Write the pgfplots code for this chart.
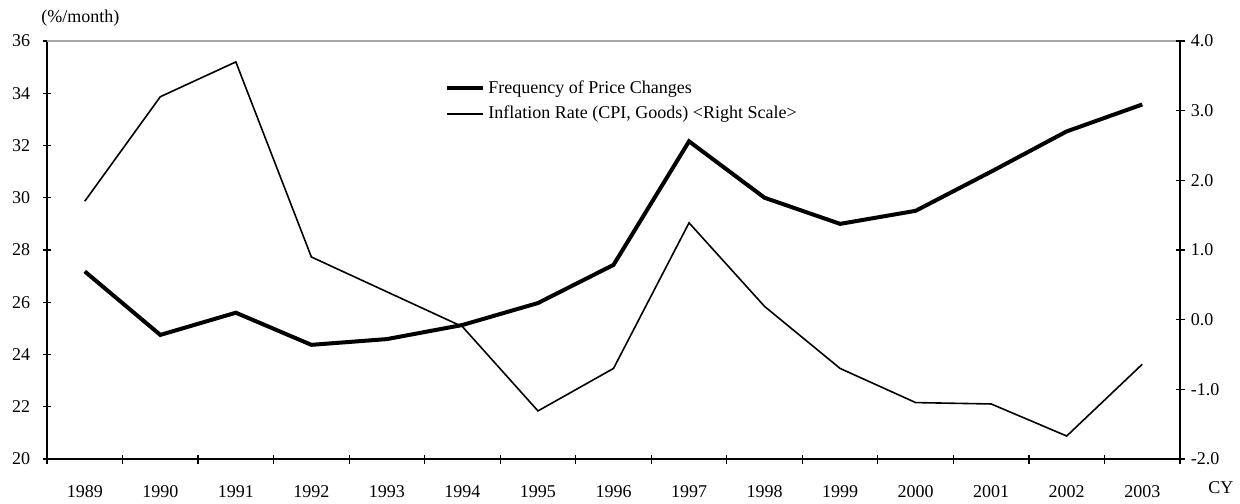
\documentclass[border=0pt]{standalone}
\usepackage{pgfplots}
\pgfplotsset{compat=1.18}
\usepackage{fontspec}
\setmainfont{Liberation Serif}
\begin{document}
\fontsize{9}{11}\selectfont
\begin{tikzpicture}
\pgfplotsset{
  every axis/.append style={
    scale only axis, width=566.5pt, height=209pt,
    xmin=-0.5, xmax=14.5,
    tick align=center, major tick length=4.5pt, minor tick length=4.5pt,
    tick style={black, line width=0.6pt},
    axis line style={black, line width=0.8pt},
    /pgf/number format/assume math mode=true,
    tick label style={font=\fontsize{9}{11}\selectfont},
  }
}
\begin{axis}[
  name=main,
  axis x line*=bottom, axis y line*=left,
  ymin=20, ymax=36, ytick={20,22,...,36},
  xtick={0,...,14}, major x tick style={draw=none},
  xticklabels={1989,1990,1991,1992,1993,1994,1995,1996,1997,1998,1999,2000,2001,2002,2003},
  minor xtick={-0.5,0.5,...,14.5},
  xticklabel style={anchor=base, yshift=-17pt},
  yticklabel style={xshift=-3pt},
  clip=false,
]
\addplot[black, line width=2pt] coordinates {
(0,27.18) (1,24.75) (2,25.6) (3,24.37) (4,24.59) (5,25.13) (6,25.97) (7,27.43)
(8,32.16) (9,30.0) (10,29.0) (11,29.5) (12,31.0) (13,32.54) (14,33.57)};
\draw[gray!70, line width=0.8pt] (rel axis cs:0,1) -- (rel axis cs:1,1);
\node[anchor=base west, inner sep=0pt] at ([xshift=-3pt, yshift=9.5pt]rel axis cs:0,1) {(\%/month)};
\node[anchor=base west, inner sep=0pt] at ([xshift=14pt, yshift=-17pt]rel axis cs:1,0) {CY};
\end{axis}
\begin{axis}[
  axis x line=none, axis y line*=right,
  ymin=-2, ymax=4, ytick={-2,-1,...,4},
  yticklabel style={/pgf/number format/.cd, fixed, fixed zerofill, precision=1},
  legend style={at={(0.346,0.925)}, anchor=north west, draw=none, fill=none,
    font=\fontsize{9}{11}\selectfont, row sep=1pt,
    nodes={inner xsep=1.5pt},
    /tikz/every even column/.append style={column sep=0pt}},
  legend cell align=left,
  legend image code/.code={\draw[#1] (0pt,0pt) -- (18pt,0pt);},
]
\addlegendimage{black, line width=2pt}
\addlegendentry{Frequency of Price Changes}
\addplot[black, line width=0.8pt] coordinates {
(0,1.7) (1,3.2) (2,3.7) (3,0.9) (4,0.4) (5,-0.1) (6,-1.31) (7,-0.7)
(8,1.39) (9,0.19) (10,-0.7) (11,-1.19) (12,-1.21) (13,-1.67) (14,-0.64)};
\addlegendentry{Inflation Rate (CPI, Goods) <Right Scale>}
\end{axis}
\path[use as bounding box] ([xshift=-23.5pt,yshift=-19.5pt]main.south west) rectangle ([xshift=30pt,yshift=20.5pt]main.north east);
\end{tikzpicture}
\end{document}
